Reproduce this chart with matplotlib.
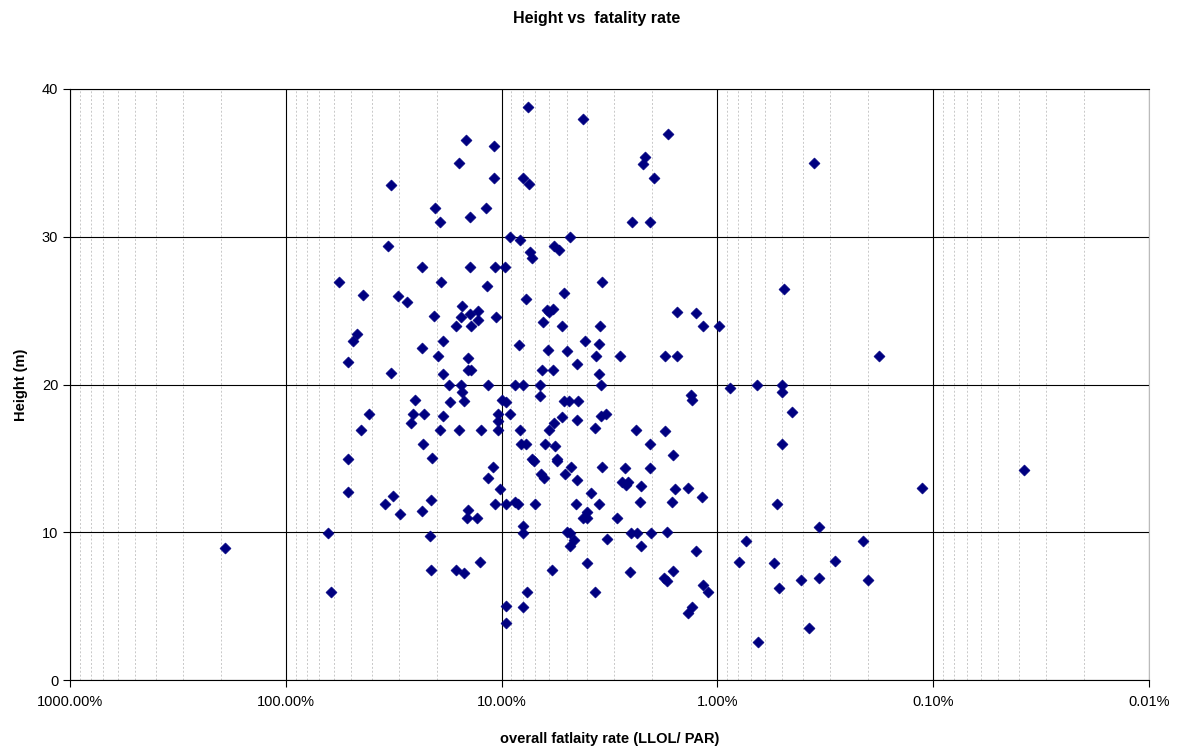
import matplotlib
matplotlib.use("Agg")
import matplotlib.pyplot as plt
from matplotlib.ticker import LogLocator, FixedLocator, FuncFormatter, NullFormatter

plt.rcParams["font.family"] = ["Liberation Sans", "DejaVu Sans"]

# Overall fatality rate (% of population at risk) and dam height (m)
fatality_rate_pct = [
    191, 63.5, 61.7, 56.5, 51.5, 51.5, 51.5, 49.0, 46.6, 45.0,
    43.9, 41.0, 34.6, 33.7, 32.5, 32.6, 31.9, 30.2, 29.7, 27.5,
    26.4, 25.8, 25.1, 23.5, 23.3, 23.3, 23.0, 23.1, 21.3, 21.5,
    21.3, 21.1, 20.6, 20.3, 19.8, 19.3, 19.1, 18.7, 18.6, 18.6,
    19.3, 17.6, 17.3, 16.3, 16.3, 15.8, 15.8, 15.4, 15.4, 15.3,
    15.2, 14.9, 14.9, 14.6, 14.5, 14.3, 14.3, 13.9, 14.3, 14.05,
    13.95, 14.0, 13.8, 13.0, 12.8, 12.8, 12.6, 12.4, 11.8, 11.7,
    11.6, 11.6, 11.0, 10.8, 10.8, 10.7, 10.6, 10.7, 10.4, 10.4,
    10.35, 10.2, 10.0, 9.61, 9.54, 9.54, 9.54, 9.54, 9.17, 9.11,
    8.67, 8.39, 8.65, 8.28, 8.22, 8.22, 8.13, 7.96, 7.95, 7.96,
    7.93, 7.95, 7.74, 7.71, 7.65, 7.57, 7.49, 7.39, 7.26, 7.23,
    7.1, 7.0, 6.62, 6.62, 6.57, 6.50, 6.41, 6.39, 6.27, 6.18,
    6.07, 6.03, 6.03, 5.80, 5.84, 5.78, 5.74, 5.70, 5.66, 5.56,
    5.52, 5.40, 5.27, 5.25, 5.12, 5.12, 5.07, 5.0, 4.86, 4.84,
    4.83, 4.83, 4.97, 4.77, 4.60, 4.52, 4.47, 4.47, 4.47, 4.44,
    4.20, 4.21, 4.01, 4.03, 4.11, 4.03, 3.86, 3.68, 3.68, 3.64,
    3.54, 3.54, 3.54, 3.50, 3.47, 3.46, 3.44, 3.41, 3.28, 3.26,
    2.92, 2.82, 2.76, 2.67, 2.65, 2.59, 2.55, 2.51, 2.49, 2.39,
    2.37, 2.28, 2.27, 2.27, 2.21, 2.17, 2.05, 2.05, 2.05, 2.03,
    1.96, 1.75, 1.75, 1.76, 1.72, 1.71, 1.70, 1.63, 1.61, 1.61,
    1.58, 1.54, 1.54, 1.37, 1.37, 1.33, 1.31, 1.31, 1.25, 1.25,
    1.18, 1.16, 1.17, 1.10, 0.983, 0.874, 0.796, 0.739, 0.653, 0.650,
    0.545, 0.531, 0.516, 0.502, 0.502, 0.502, 0.491, 0.450, 0.410, 0.376,
    0.358, 0.339, 0.339, 0.284, 0.212, 0.200, 0.178, 0.113, 0.0379,
]
height_m = [
    8.93, 9.94, 5.93, 26.95, 21.5, 14.97, 12.72, 22.96, 23.43, 16.91,
    26.07, 17.98, 11.9, 29.4, 33.5, 20.8, 12.43, 25.98, 11.23, 25.55,
    17.37, 17.98, 18.94, 11.46, 27.98, 22.44, 17.98, 15.95, 12.16, 9.74,
    7.42, 15.0, 24.65, 31.96, 21.95, 30.99, 26.96, 22.96, 20.74, 17.86,
    16.91, 19.94, 18.81, 23.97, 7.42, 34.96, 16.91, 24.58, 19.94, 25.28,
    19.46, 18.87, 7.24, 36.58, 10.96, 21.77, 20.97, 20.97, 11.5, 31.37,
    27.96, 24.76, 23.97, 10.96, 24.95, 24.34, 7.96, 16.91, 31.96, 26.66,
    19.94, 13.65, 14.39, 36.16, 33.99, 27.96, 24.6, 11.91, 17.98, 17.55,
    16.91, 12.94, 18.94, 27.98, 18.81, 11.91, 5.0, 3.83, 17.98, 29.95,
    12.04, 11.91, 19.94, 22.64, 29.79, 16.91, 15.97, 34.0, 19.94, 10.44,
    9.92, 4.92, 25.78, 15.97, 5.93, 38.75, 33.56, 28.98, 28.53, 14.95,
    14.85, 11.91, 19.94, 19.24, 13.92, 20.97, 24.25, 13.65, 15.97, 25.03,
    22.33, 24.9, 16.91, 25.08, 7.42, 20.97, 17.41, 29.38, 15.83, 14.95,
    14.85, 29.09, 17.82, 23.97, 26.18, 18.9, 13.92, 10.03, 18.9, 29.95,
    9.97, 9.04, 22.28, 14.39, 9.45, 11.91, 13.53, 21.36, 17.59, 18.9,
    37.96, 10.98, 10.98, 11.39, 22.96, 7.94, 12.69, 17.03, 5.93, 21.95,
    22.73, 20.68, 11.91, 23.97, 17.86, 19.94, 14.44, 26.96, 17.98, 9.54,
    10.98, 21.95, 13.43, 14.33, 13.2, 13.43, 7.31, 9.94, 30.99, 16.91,
    9.94, 12.07, 13.13, 9.1, 34.93, 35.38, 14.35, 15.95, 30.99, 9.94,
    33.99, 16.83, 21.92, 6.9, 9.99, 6.67, 36.97, 12.02, 15.25, 7.39,
    12.94, 24.92, 21.92, 12.97, 4.53, 19.28, 18.94, 4.94, 24.81, 8.73,
    12.38, 23.97, 6.44, 5.93, 23.97, 19.79, 7.96, 9.43, 19.94, 2.59,
    7.94, 11.91, 6.25, 19.94, 19.48, 15.95, 26.43, 18.13, 6.78, 3.52,
    34.96, 10.37, 6.9, 8.05, 9.43, 6.78, 21.95, 12.97, 14.23,
]

x_major_ticks = [1000, 100, 10, 1, 0.1, 0.01]
y_ticks = [0, 10, 20, 30, 40]

fig = plt.figure(figsize=(11.8, 7.54), dpi=100)
ax = fig.add_axes([70 / 1180, 74 / 754, 1079 / 1180, 591 / 754])

ax.set_xscale("log")
ax.set_xlim(1000, 0.01)
ax.set_ylim(0, 40)

ax.xaxis.set_major_locator(FixedLocator(x_major_ticks))
ax.xaxis.set_minor_locator(LogLocator(base=10, subs=range(2, 10), numticks=50))
ax.xaxis.set_minor_formatter(NullFormatter())
ax.xaxis.set_major_formatter(FuncFormatter(lambda v, p: f"{v:.2f}%"))
ax.yaxis.set_major_locator(FixedLocator(y_ticks))

ax.grid(which="minor", axis="x", color="#c8c8c8", linestyle=(0, (2, 2)), linewidth=0.7)
ax.grid(which="major", axis="both", color="black", linestyle="-", linewidth=0.8)
ax.set_axisbelow(True)

ax.scatter(fatality_rate_pct, height_m, marker="D", s=32, color="#000080",
           edgecolors="#000080", linewidths=0.4, zorder=3)

ax.spines["right"].set_color("#bbbbbb")
ax.spines["right"].set_linewidth(0.8)
for side in ("left", "bottom", "top"):
    ax.spines[side].set_color("black")
    ax.spines[side].set_linewidth(0.8)

ax.tick_params(axis="both", which="major", direction="out", length=5, width=0.8,
               labelsize=10.5, colors="black")
ax.tick_params(axis="x", which="minor", length=0)
ax.tick_params(axis="x", which="major", pad=6)

ax.set_xlabel("overall fatlaity rate (LLOL/ PAR)", fontsize=10.5, fontweight="bold", labelpad=16)
ax.set_ylabel("Height (m)", fontsize=10.5, fontweight="bold", labelpad=10)
fig.text(0.506, 0.985, "Height vs  fatality rate", ha="center", va="top",
         fontsize=11.5, fontweight="bold")

fig.savefig("out.png", dpi=100)
